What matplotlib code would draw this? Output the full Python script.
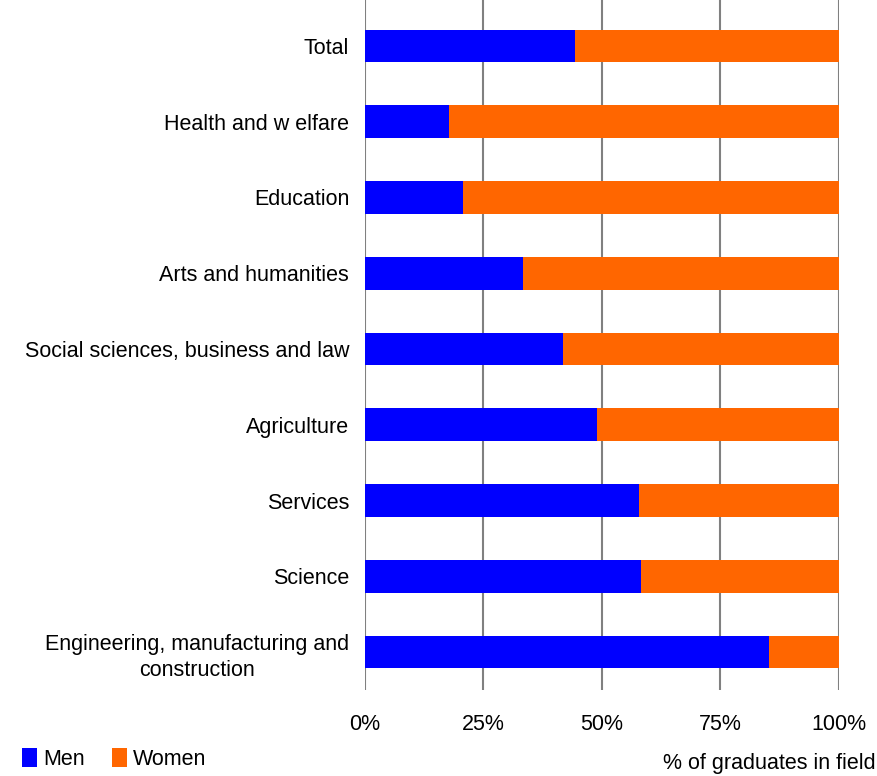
import matplotlib
matplotlib.use("Agg")
import matplotlib.pyplot as plt
from matplotlib.patches import Patch

plt.rcParams['font.family'] = ['Liberation Sans', 'DejaVu Sans']

categories = ["Total", "Health and w elfare", "Education", "Arts and humanities",
              "Social sciences, business and law", "Agriculture", "Services",
              "Science", "Engineering, manufacturing and\nconstruction"]
men = [44.4, 17.8, 20.8, 33.4, 41.8, 49.0, 57.9, 58.3, 85.3]
women = [100 - m for m in men]
xticks = [0, 25, 50, 75, 100]
xticklabels = ["0%", "25%", "50%", "75%", "100%"]

BLUE = "#0000FF"
ORANGE = "#FF6600"
FS = 15.5

fig = plt.figure(figsize=(8.77, 7.76), dpi=100)
ax = fig.add_axes([364.5/877, 1-690/776, (839-364.5)/877, 690/776])

y = list(range(len(categories)))
ax.barh(y, men, height=0.43, color=BLUE, zorder=3)
ax.barh(y, women, left=men, height=0.43, color=ORANGE, zorder=3)
ax.set_ylim(len(categories) - 0.5, -0.5 - 8/76)
ax.set_xlim(0, 100)
ax.set_yticks(y)
ax.set_yticklabels(categories, fontsize=FS, multialignment='center', linespacing=1.35)
ax.set_xticks(xticks)
ax.set_xticklabels(xticklabels, fontsize=FS)
ax.tick_params(axis='both', length=0)
ax.tick_params(axis='y', pad=11)
ax.tick_params(axis='x', pad=17)
ax.grid(axis='x', color='#808080', linewidth=1.5, zorder=0)
for s in ax.spines.values():
    s.set_visible(False)

fig.text(876/877, 1-763/776, "% of graduates in field", ha='right', va='center', fontsize=FS)

handles = [Patch(facecolor=BLUE, label="Men"), Patch(facecolor=ORANGE, label="Women")]
fig.legend(handles=handles, loc='center left', bbox_to_anchor=(22/877, 1-759/776),
           ncol=2, frameon=False, fontsize=FS, handlelength=0.7, handleheight=1.0,
           handletextpad=0.3, columnspacing=1.23, borderpad=0, borderaxespad=0)

fig.savefig("out.png", dpi=100)
